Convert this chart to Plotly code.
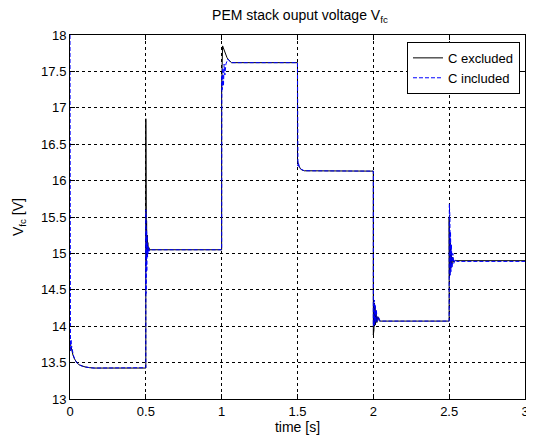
import plotly.graph_objects as go

# "C excluded" series (black, solid)
t_excl = [0, 0.01, 0.02, 0.03, 0.045, 0.06, 0.08, 0.1, 0.13, 0.16, 0.4999,
          0.5, 0.5008, 0.5016, 0.5024, 0.5032, 0.504, 0.505, 0.506, 0.507, 0.5082,
          0.5095, 0.511, 0.513, 0.516, 0.52, 0.525, 0.9999,
          1.0, 1.006, 1.015, 1.025, 1.035, 1.045, 1.055, 1.065, 1.4999,
          1.5, 1.505, 1.512, 1.52, 1.53, 1.545, 1.9999,
          2.0, 2.002, 2.004, 2.006, 2.008, 2.011, 2.014, 2.018, 2.023, 2.03, 2.04, 2.06, 2.4999,
          2.5, 2.502, 2.504, 2.506, 2.508, 2.511, 2.514, 2.518, 2.523, 2.53, 2.54, 3.0]
v_excl = [13.78, 13.68, 13.60, 13.55, 13.50, 13.47, 13.45, 13.44, 13.43, 13.425, 13.425,
          16.85, 14.8, 15.62, 14.85, 15.55, 14.9, 15.45, 14.95, 15.35, 15.0,
          15.25, 15.02, 15.15, 15.04, 15.08, 15.05, 15.05,
          17.3, 17.85, 17.80, 17.74, 17.69, 17.66, 17.635, 17.62, 17.62,
          16.28, 16.22, 16.18, 16.16, 16.145, 16.135, 16.13,
          13.88, 14.35, 13.95, 14.32, 14.0, 14.27, 14.02, 14.2, 14.05, 14.13, 14.07, 14.07, 14.07,
          15.5, 14.7, 15.3, 14.75, 15.15, 14.8, 15.02, 14.85, 14.95, 14.88, 14.9, 14.9]

# "C included" series (blue, dashed)
t_incl = [0, 0.0008, 0.0016, 0.0024, 0.0032, 0.0042, 0.0055, 0.007, 0.009, 0.012, 0.02, 0.03,
          0.045, 0.06, 0.08, 0.1, 0.13, 0.16, 0.4999,
          0.5, 0.5005, 0.5012, 0.5019, 0.5027, 0.5035, 0.5044, 0.5053, 0.5063, 0.5074,
          0.5086, 0.51, 0.5115, 0.513, 0.515, 0.518, 0.522, 0.528, 0.9999,
          1.0, 1.001, 1.004, 1.008, 1.012, 1.016, 1.021, 1.028, 1.04, 1.05, 1.065, 1.4999,
          1.5, 1.503, 1.506, 1.512, 1.52, 1.53, 1.545, 1.9999,
          2.0, 2.002, 2.004, 2.006, 2.009, 2.012, 2.016, 2.02, 2.026, 2.034, 2.045, 2.4999,
          2.5, 2.501, 2.503, 2.505, 2.507, 2.509, 2.512, 2.515, 2.519, 2.524, 2.53, 2.54, 2.55, 3.0]
v_incl = [18.0, 14.2, 13.7, 14.1, 13.65, 13.95, 13.68, 13.82, 13.7, 13.72, 13.62, 13.55,
          13.50, 13.47, 13.45, 13.44, 13.43, 13.425, 13.425,
          13.43, 15.6, 14.45, 15.5, 14.55, 15.42, 14.65, 15.32, 14.75, 15.25,
          14.85, 15.17, 14.95, 15.1, 15.0, 15.09, 15.03, 15.05, 15.05,
          15.05, 17.45, 17.25, 17.55, 17.3, 17.6, 17.45, 17.6, 17.67, 17.645, 17.62, 17.62,
          16.32, 16.2, 16.25, 16.18, 16.16, 16.145, 16.135, 16.13,
          14.0, 14.4, 14.05, 14.36, 14.02, 14.3, 14.05, 14.22, 14.06, 14.13, 14.07, 14.07,
          14.6, 15.68, 14.65, 15.5, 14.7, 15.3, 14.75, 15.12, 14.8, 15.0, 14.86, 14.92, 14.89, 14.89]

x_ticks = [0, 0.5, 1, 1.5, 2, 2.5, 3]
x_ticklabels = ["0", "0.5", "1", "1.5", "2", "2.5", "3"]
y_ticks = [13, 13.5, 14, 14.5, 15, 15.5, 16, 16.5, 17, 17.5, 18]
y_ticklabels = ["13", "13.5", "14", "14.5", "15", "15.5", "16", "16.5", "17", "17.5", "18"]

FONT = "Arial, Liberation Sans, Helvetica, sans-serif"

fig = go.Figure()
fig.add_trace(go.Scatter(x=t_excl, y=v_excl, mode="lines", name="C excluded",
                         line=dict(color="black", width=1)))
fig.add_trace(go.Scatter(x=t_incl, y=v_incl, mode="lines", name="C included",
                         line=dict(color="#0000ff", width=1, dash="4px,2px")))

axis_common = dict(
    showline=True, linecolor="black", linewidth=1, mirror="ticks",
    ticks="inside", ticklen=5, tickcolor="black",
    showgrid=True, gridcolor="black", gridwidth=1, griddash="3px,3px",
    zeroline=False, tickfont=dict(family=FONT, size=13, color="black"),
    ticklabeloverflow="allow",
)

# the page body adds an 8px offset, so the figure is sized to fill the 534x443 window
fig.update_layout(
    width=526, height=435,
    margin=dict(l=62, r=5, t=27, b=44),
    paper_bgcolor="white", plot_bgcolor="white",
    font=dict(family=FONT, size=13, color="black"),
    title=dict(text="PEM stack ouput voltage V<sub>fc</sub>", x=0.555, xanchor="center",
               y=1 - 7 / 435, yanchor="middle", yref="container",
               font=dict(family=FONT, size=14, color="black")),
    xaxis=dict(range=[0, 3], tickvals=x_ticks, ticktext=x_ticklabels,
               title=dict(text="time [s]", standoff=0, font=dict(family=FONT, size=14)),
               **axis_common),
    yaxis=dict(range=[13, 18], tickvals=y_ticks, ticktext=y_ticklabels,
               title=dict(text="V<sub>fc</sub> [V]", standoff=14, font=dict(family=FONT, size=14)),
               **axis_common),
    legend=dict(x=0.989, y=0.981, xanchor="right", yanchor="top",
                bgcolor="white", bordercolor="black", borderwidth=1,
                font=dict(family=FONT, size=13), tracegroupgap=0),
    showlegend=True,
)

fig.write_html("out.html")
